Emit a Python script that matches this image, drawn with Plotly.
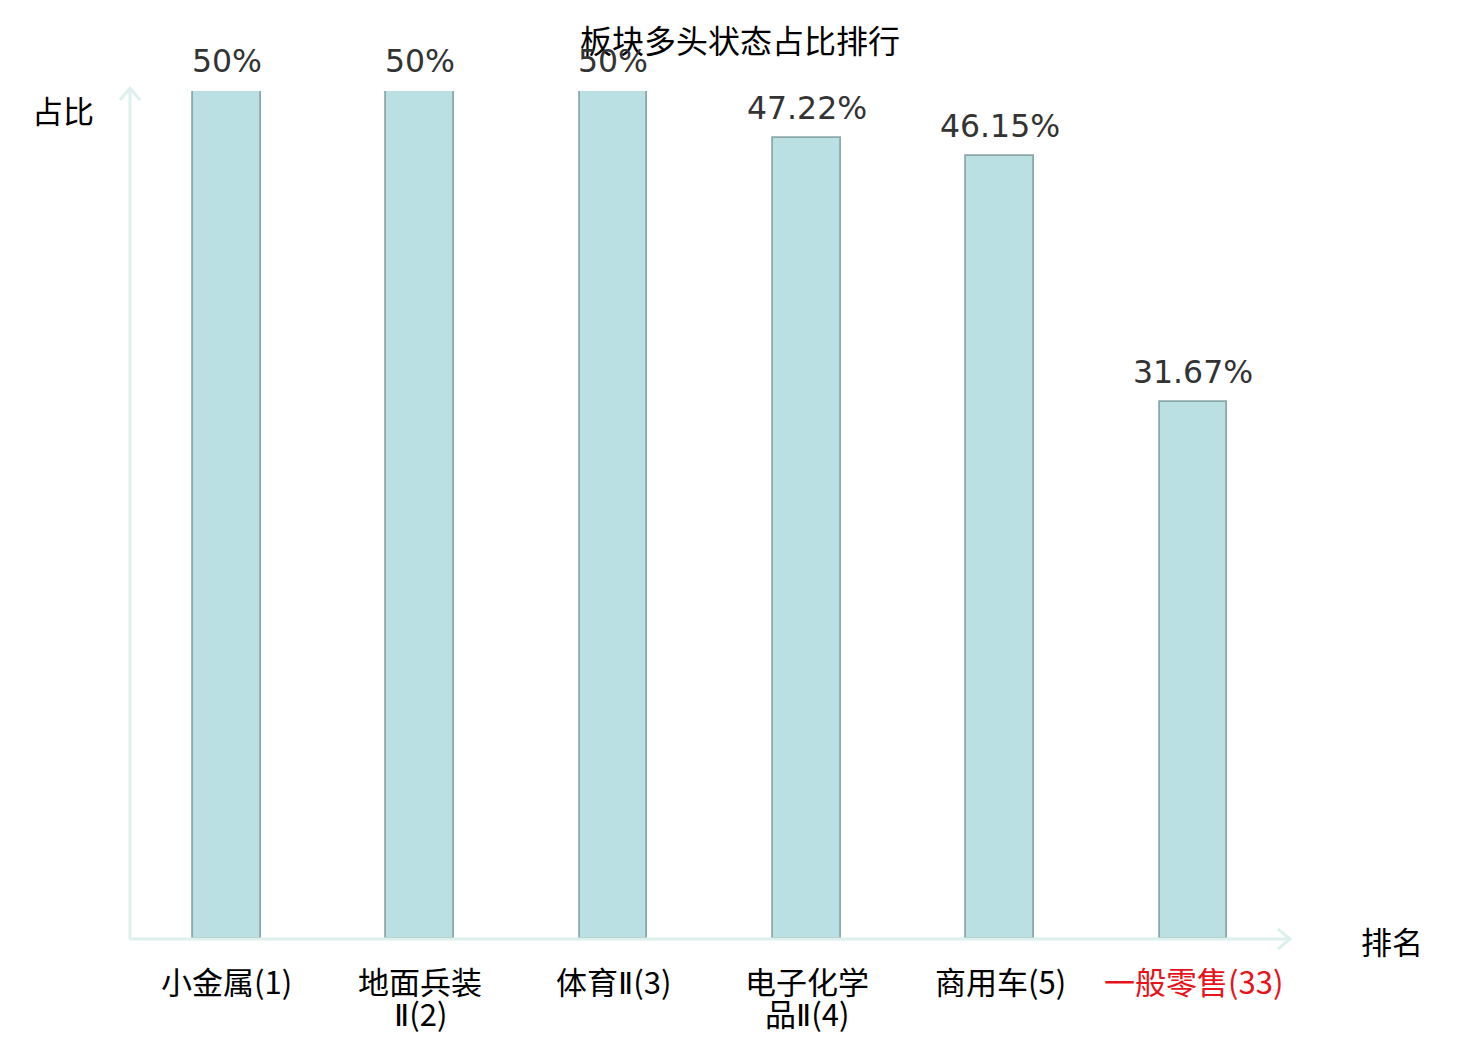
import plotly.graph_objects as go

# sector names with their ranking, and long-position share (%)
sectors = ["小金属(1)", "地面兵装<br>Ⅱ(2)", "体育Ⅱ(3)", "电子化学<br>品Ⅱ(4)", "商用车(5)", "一般零售(33)"]
shares = [50, 50, 50, 47.22, 46.15, 31.67]
share_labels = ["50%", "50%", "50%", "47.22%", "46.15%", "31.67%"]
highlight = "一般零售(33)"

# page body adds an 8px margin, so the figure is 16px smaller than the window
OFF = 8
W, H = 1480 - 2 * OFF, 1040 - 2 * OFF
L, T = 130 - OFF, 91 - OFF
pw, ph = 1160, 848
R, B = W - L - pw, H - T - ph
AX = "#dcf1ee"
CJK = "Noto Sans CJK SC"
NARROW = '<span style="font-family:DejaVu Sans">Ⅱ</span>'

fig = go.Figure(
    go.Bar(
        x=list(range(len(sectors))),
        y=shares,
        width=0.35,
        marker=dict(color="#bbe0e3", line=dict(color="#8da8a9", width=1.8)),
        hoverinfo="skip",
    )
)

for i, (v, lab) in enumerate(zip(shares, share_labels)):
    fig.add_annotation(
        x=i, y=v, text=lab, showarrow=False, yanchor="middle", yshift=30,
        font=dict(family="DejaVu Sans", size=31.5, color="#333333"),
    )

# category labels, drawn line by line to keep the tight line spacing
for i, name in enumerate(sectors):
    colour = "#e8131a" if name == highlight else "#000000"
    for j, line in enumerate(name.split("<br>")):
        fig.add_annotation(
            x=i, y=0, text=line.replace("Ⅱ", NARROW), showarrow=False,
            yanchor="middle", yshift=-(41 + 32 * j),
            font=dict(family=CJK, size=31, color=colour),
        )

# axis lines with open arrow heads (paper coords)
dx, dy = 10 / pw, 12 / ph
ytop = (939 - 88) / ph
fig.add_shape(type="line", xref="paper", yref="paper", x0=0, y0=0, x1=0, y1=ytop,
              line=dict(color=AX, width=3))
fig.add_shape(type="path", xref="paper", yref="paper",
              path=f"M {-dx} {ytop - dy} L 0 {ytop} L {dx} {ytop - dy}",
              line=dict(color=AX, width=3))
fig.add_shape(type="line", xref="paper", yref="paper", x0=0, y0=0, x1=1, y1=0,
              line=dict(color=AX, width=3))
fig.add_shape(type="path", xref="paper", yref="paper",
              path=f"M {1 - 12 / pw} {10 / ph} L 1 0 L {1 - 12 / pw} {-10 / ph}",
              line=dict(color=AX, width=3))

fig.add_annotation(xref="paper", yref="paper", x=(63 - 130) / pw, y=(939 - 110) / ph,
                   text="占比", showarrow=False, xanchor="center", yanchor="middle",
                   font=dict(family=CJK, size=31, color="#000000"))
fig.add_annotation(xref="paper", yref="paper", x=(1392 - 130) / pw, y=(939 - 941) / ph,
                   text="排名", showarrow=False, xanchor="center", yanchor="middle",
                   font=dict(family=CJK, size=31, color="#000000"))

fig.update_layout(
    width=W, height=H,
    margin=dict(l=L, r=R, t=T, b=B, pad=0, autoexpand=False),
    paper_bgcolor="white", plot_bgcolor="white",
    showlegend=False,
    bargap=0,
    title=dict(text="板块多头状态占比排行", x=0.5, xanchor="center",
               y=1 - (42 - OFF) / H, yanchor="middle",
               font=dict(family=CJK, size=32, color="#000000")),
    xaxis=dict(
        range=[-0.5, len(sectors) - 0.5],
        showline=False, showgrid=False, zeroline=False, automargin=False,
        showticklabels=False, ticks="",
    ),
    yaxis=dict(
        range=[0, 50], showline=False, showgrid=False, zeroline=False,
        showticklabels=False, ticks="", automargin=False,
    ),
)

fig.write_html("out.html")
